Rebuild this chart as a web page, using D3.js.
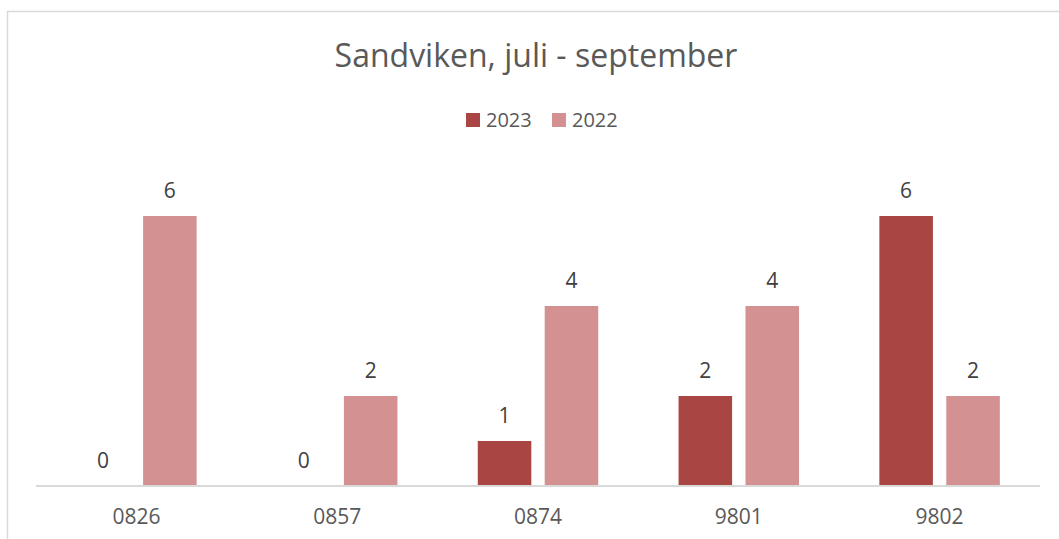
<!DOCTYPE html>
<html>
<head>
<meta charset="utf-8">
<script src="https://d3js.org/d3.v7.min.js"></script>
<style>
  html, body { margin: 0; padding: 0; background: #fff; }
  svg { display: block; }
</style>
</head>
<body>
<div id="chart"></div>
<script>
// ── data ───────────────────────────────────────────────
const categories = ['0826', '0857', '0874', '9801', '9802'];
const seriesNames = ['2023', '2022'];
const values2023 = [0, 0, 1, 2, 6];
const values2022 = [6, 2, 4, 4, 2];
const seriesColors = ['#a94543', '#d39291'];

const width = 1059;
const height = 539;
const font = '"Open Sans", "Noto Sans", sans-serif';
const textColor = '#595959';

const margin = { left: 36, right: 19, top: 0, bottom: 53 };

const svg = d3.select('#chart')
    .append('svg')
    .attr('width', width)
    .attr('height', height);

// chart area frame (runs off the right and bottom edges)
svg.append('rect')
    .attr('x', 7.5)
    .attr('y', 11.5)
    .attr('width', width + 20)
    .attr('height', height + 20)
    .attr('fill', '#fff')
    .attr('stroke', '#d9d9d9')
    .attr('stroke-width', 1.5);

// title
svg.append('text')
    .attr('x', 536)
    .attr('y', 67)
    .attr('text-anchor', 'middle')
    .attr('font-family', font)
    .attr('font-size', '32px')
    .attr('fill', textColor)
    .text('Sandviken, juli - september');

// scales
const x0 = d3.scaleBand()
    .domain(categories)
    .range([margin.left, width - margin.right])
    .paddingInner(0.4)
    .paddingOuter(0.2);

const x1 = d3.scaleBand()
    .domain(seriesNames)
    .range([0, x0.bandwidth()])
    .paddingInner(0.2);

const y = d3.scaleLinear()
    .domain([0, 6])
    .range([486, 216]);

const rows = categories.map((c, i) => ({
    cat: c,
    vals: [
        { s: seriesNames[0], v: values2023[i], color: seriesColors[0] },
        { s: seriesNames[1], v: values2022[i], color: seriesColors[1] }
    ]
}));

// bars
const groups = svg.append('g')
    .selectAll('g')
    .data(rows)
    .join('g')
    .attr('transform', d => `translate(${x0(d.cat)},0)`);

groups.selectAll('rect')
    .data(d => d.vals)
    .join('rect')
    .attr('x', d => x1(d.s))
    .attr('y', d => y(d.v))
    .attr('width', x1.bandwidth())
    .attr('height', d => y(0) - y(d.v))
    .attr('fill', d => d.color);

// value labels
groups.selectAll('text')
    .data(d => d.vals)
    .join('text')
    .attr('x', d => x1(d.s) + x1.bandwidth() / 2)
    .attr('y', d => y(d.v) - 18)
    .attr('text-anchor', 'middle')
    .attr('font-family', font)
    .attr('font-size', '21px')
    .attr('fill', '#404040')
    .text(d => d.v);

// x axis
const xAxis = svg.append('g')
    .attr('transform', `translate(0,${y(0)})`)
    .call(d3.axisBottom(x0).tickSize(0).tickPadding(23).tickSizeOuter(0));

xAxis.select('.domain')
    .attr('stroke', '#d9d9d9')
    .attr('stroke-width', 2)
    .attr('d', `M${margin.left},0H${width - margin.right}`);

xAxis.selectAll('text')
    .attr('font-family', font)
    .attr('font-size', '21px')
    .attr('fill', textColor);

// legend
const legend = svg.append('g')
    .attr('transform', 'translate(466,113)');

const legendItems = legend.selectAll('g')
    .data(seriesNames)
    .join('g')
    .attr('transform', (d, i) => `translate(${i * 86},0)`);

legendItems.append('rect')
    .attr('width', 14)
    .attr('height', 14)
    .attr('fill', (d, i) => seriesColors[i]);

legendItems.append('text')
    .attr('x', 20)
    .attr('y', 14)
    .attr('font-family', font)
    .attr('font-size', '20px')
    .attr('fill', textColor)
    .text(d => d);
</script>
</body>
</html>
